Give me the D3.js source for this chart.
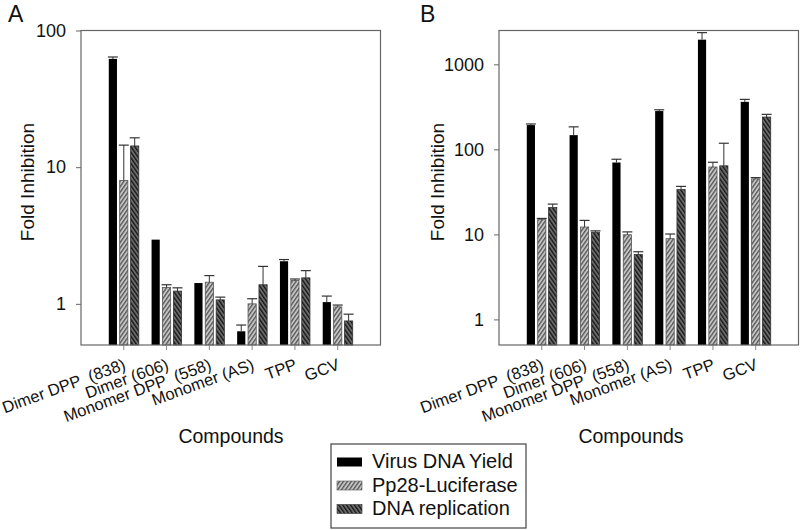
<!DOCTYPE html>
<html><head><meta charset="utf-8">
<script src="https://cdn.jsdelivr.net/npm/d3@7"></script>
<style>
html,body{margin:0;padding:0;background:#fff;}
svg{display:block;font-family:"Liberation Sans",Arial,sans-serif;}
text{fill:#111;font-family:"Liberation Sans",Arial,sans-serif;}
</style></head>
<body><svg id="c" width="800" height="530"></svg>
<script>
const categories = ["Dimer DPP \u00a0(838)", "Dimer (606)", "Monomer DPP \u00a0(558)", "Monomer (AS)", "TPP", "GCV"];
const seriesNames = ["Virus DNA Yield", "Pp28-Luciferase", "DNA replication"];

// Panel A
const virusA = [62, 2.95, 1.42, 0.63, 2.05, 1.03];
const virusAErr = [2, 0, 0, 0.07, 0.06, 0.11];
const lucA = [8.0, 1.32, 1.44, 1.0, 1.48, 0.95];
const lucAErr = [6.5, 0.06, 0.17, 0.09, 0.04, 0.03];
const repA = [14.3, 1.24, 1.07, 1.38, 1.55, 0.75];
const repAErr = [2.1, 0.07, 0.05, 0.5, 0.2, 0.09];
const ticksA = [1, 10, 100];

// Panel B
const virusB = [193, 147, 70, 282, 1950, 362];
const virusBErr = [6, 37, 6.5, 10, 410, 25];
const lucB = [14.9, 12.2, 9.9, 8.9, 62, 45];
const lucBErr = [0.5, 2.4, 0.8, 1.2, 8.5, 1.5];
const repB = [20.7, 10.6, 5.8, 33.7, 64, 240];
const repBErr = [2, 0.4, 0.45, 3, 54, 18];
const ticksB = [1, 10, 100, 1000];

const svg = d3.select("#c");
const defs = svg.append("defs");

function hatch(id, bg, line, angle) {
  const p = defs.append("pattern").attr("id", id)
    .attr("patternUnits", "userSpaceOnUse").attr("width", 3.2).attr("height", 3.2)
    .attr("patternTransform", `rotate(${angle})`);
  p.append("rect").attr("width", 3.2).attr("height", 3.2).attr("fill", bg);
  p.append("rect").attr("x", 0).attr("y", 0).attr("width", 1.3).attr("height", 3.2).attr("fill", line);
}
hatch("hLuc", "#c4c4c4", "#555", 35);
hatch("hRep", "#6a6a6a", "#151515", -35);

const fills = ["#000", "url(#hLuc)", "url(#hRep)"];
const strokes = ["#000", "#555", "#333"];
const FONT = "Liberation Sans, Arial, sans-serif";

function panel(cfg) {
  const g = svg.append("g");
  const x = d3.scaleBand().domain(categories).range([cfg.left, cfg.right]).paddingInner(0).paddingOuter(0.5);
  const y = d3.scaleLog().domain(cfg.domain).range([cfg.bottom, cfg.top]);
  const sub = d3.scaleBand().domain(seriesNames).range([-15, 15]).paddingInner(0.25);

  cfg.series.forEach((s, si) => {
    categories.forEach((c, ci) => {
      const cx = x(c) + x.bandwidth() / 2;
      const bx = cx + sub(seriesNames[si]);
      const v = s.vals[ci];
      g.append("rect").attr("x", bx).attr("y", y(v))
        .attr("width", sub.bandwidth()).attr("height", cfg.bottom - y(v))
        .attr("fill", fills[si]).attr("stroke", strokes[si]).attr("stroke-width", si ? 0.8 : 0);
      const e = s.errs[ci];
      if (e > 0) {
        const mx = bx + sub.bandwidth() / 2;
        g.append("line").attr("x1", mx).attr("x2", mx).attr("y1", y(v)).attr("y2", y(v + e))
          .attr("stroke", "#333").attr("stroke-width", 1);
        g.append("line").attr("x1", mx - 5).attr("x2", mx + 5).attr("y1", y(v + e)).attr("y2", y(v + e))
          .attr("stroke", "#333").attr("stroke-width", 1.2);
      }
    });
  });

  g.append("rect").attr("x", cfg.left).attr("y", cfg.top)
    .attr("width", cfg.right - cfg.left).attr("height", cfg.bottom - cfg.top)
    .attr("fill", "none").attr("stroke", "#666").attr("stroke-width", 1.2);

  const ya = g.append("g").attr("transform", `translate(${cfg.left},0)`)
    .call(d3.axisLeft(y).tickValues(cfg.ticks).tickFormat(d3.format("d")).tickSize(5).tickPadding(10));
  ya.attr("font-family", FONT);
  ya.select(".domain").remove();
  ya.selectAll("line").attr("stroke", "#666");
  ya.selectAll("text").attr("font-size", 18).attr("fill", "#111");

  const xa = g.append("g").attr("transform", `translate(0,${cfg.bottom})`)
    .call(d3.axisBottom(x).tickSize(5).tickFormat(""));
  xa.select(".domain").remove();
  xa.selectAll("line").attr("stroke", "#888");
  categories.forEach(c => {
    const tx = x(c) + x.bandwidth() / 2;
    g.append("text").attr("transform", `translate(${tx + 3},${cfg.bottom + 24}) rotate(-20)`)
      .attr("text-anchor", "end").attr("font-size", 16.5).text(c);
  });

  g.append("text").attr("x", cfg.xTitleX).attr("y", 443).attr("text-anchor", "middle")
    .attr("font-size", 19.5).text("Compounds");
  g.append("text").attr("transform", `translate(${cfg.yTitleX},182) rotate(-90)`)
    .attr("text-anchor", "middle").attr("font-size", 19).text("Fold Inhibition");
  g.append("text").attr("x", cfg.labelX).attr("y", 22).attr("font-size", 23).text(cfg.label);
}

panel({
  left: 81, right: 380.5, top: 30.5, bottom: 345, domain: [0.5, 100], ticks: ticksA,
  series: [{vals: virusA, errs: virusAErr}, {vals: lucA, errs: lucAErr}, {vals: repA, errs: repAErr}],
  xTitleX: 231, yTitleX: 34, label: "A", labelX: 8
});
panel({
  left: 499, right: 798.5, top: 30.5, bottom: 345, domain: [0.5, 2500], ticks: ticksB,
  series: [{vals: virusB, errs: virusBErr}, {vals: lucB, errs: lucBErr}, {vals: repB, errs: repBErr}],
  xTitleX: 631, yTitleX: 444, label: "B", labelX: 420
});

const lg = svg.append("g");
lg.append("rect").attr("x", 331).attr("y", 444).attr("width", 195).attr("height", 84)
  .attr("fill", "#fff").attr("stroke", "#444").attr("stroke-width", 1.2);
seriesNames.forEach((s, i) => {
  const cy = 462 + i * 23.5;
  lg.append("rect").attr("x", 337).attr("y", cy - 4.5).attr("width", 25).attr("height", 9)
    .attr("fill", fills[i]).attr("stroke", strokes[i]).attr("stroke-width", i ? 0.6 : 0);
  lg.append("text").attr("x", 372).attr("y", cy + 6).attr("font-size", 20).text(s);
});
</script></body></html>
